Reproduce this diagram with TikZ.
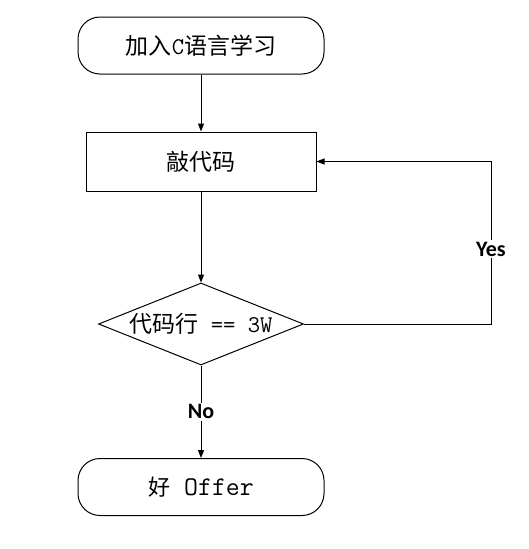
\documentclass[tikz,border=0pt]{standalone}
\usepackage{fontspec}
\newfontfamily\cjk{Noto Sans CJK SC}
\newfontfamily\lblfont{Carlito}
\usetikzlibrary{shapes.geometric,arrows.meta}
\begin{document}
\begin{tikzpicture}[x=1pt,y=-1pt,
  every path/.style={line width=1pt},
  txt/.style={font=\ttfamily\fontsize{24pt}{28pt}\selectfont},
  term/.style={draw, rounded corners=22pt, minimum width=246pt, minimum height=57pt, inner sep=0pt, txt},
  proc/.style={draw, minimum width=230pt, minimum height=59pt, inner sep=0pt, txt},
  decis/.style={draw, diamond, minimum width=205pt, minimum height=82pt, inner sep=0pt},
  arr/.style={-{Triangle[length=8pt,width=6pt]}},
  lab/.style={fill=white, inner sep=2pt, font=\lblfont\bfseries\fontsize{22pt}{25pt}\selectfont}
]
\newcommand\zh[2][23pt]{{\cjk\fontsize{#1}{27pt}\selectfont #2}}
\useasboundingbox (0,0) rectangle (528,549);
\node[term] (start) at (201,45.5) {\zh{加入}C\zh{语言学习}};
\node[proc] (code) at (201,161.5) {\zh{敲代码}};
\node[decis] (dec) at (201,324) {};
\node[txt] (dectxt) at (dec.center) {\zh{代码行} == 3W};
\node[term, font=\ttfamily\fontsize{27pt}{30pt}\selectfont] (end) at (201,487) {\zh[22pt]{好} Offer};
\coordinate (c1) at (491,324);
\coordinate (c2) at (491,161.5);
\draw[arr] (start.south) -- (code.north);
\draw[arr] (code.south) -- (dec.north);
\draw[arr] (dec.south) -- node[lab]{No} (end.north);
\draw[arr] (dec.east) -- (c1) -- node[lab, pos=0.46]{Yes} (c2) -- (code.east);
\end{tikzpicture}
\end{document}
